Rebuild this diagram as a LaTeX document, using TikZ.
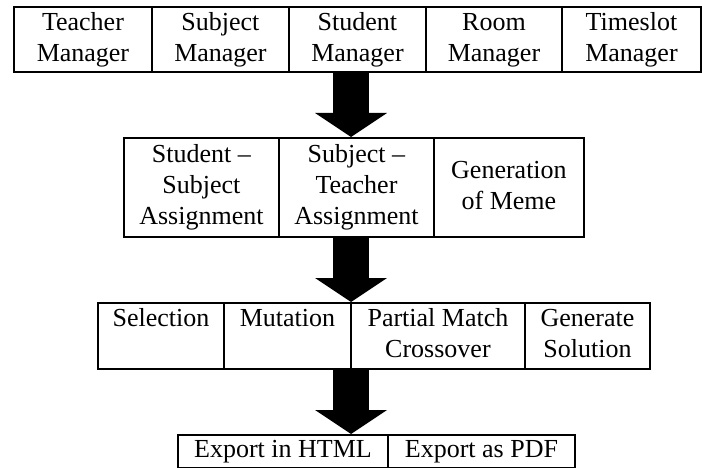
\documentclass[tikz,border=0pt]{standalone}
\usepackage{fontspec}
\setmainfont{Liberation Serif}
\usetikzlibrary{arrows.meta}
\begin{document}
\begin{tikzpicture}[x=1pt,y=-1pt,
  cell/.style={draw, line width=1.9pt, inner sep=0pt, align=center, anchor=north west,
    font=\fontsize{26}{31}\selectfont},
  fat/.style={line width=36pt, -{Triangle[width=72pt,length=24pt,line width=0pt]}}]
\useasboundingbox (0,0) rectangle (702,468);
% row 1
\node[cell, minimum width=138pt, minimum height=65pt] (t1) at (13,6) {\strut Teacher\\\strut Manager};
\node[cell, minimum width=137pt, minimum height=65pt] (t2) at (151,6) {\strut Subject\\\strut Manager};
\node[cell, minimum width=137pt, minimum height=65pt] (t3) at (288,6) {\strut Student\\\strut Manager};
\node[cell, minimum width=136pt, minimum height=65pt] (t4) at (425,6) {\strut Room\\\strut Manager};
\node[cell, minimum width=139pt, minimum height=65pt] (t5) at (561,6) {\strut Timeslot\\\strut Manager};
% row 2
\node[cell, minimum width=155pt, minimum height=99pt] (s1) at (123,137) {\strut Student --\\\strut Subject\\\strut Assignment};
\node[cell, minimum width=155pt, minimum height=99pt] (s2) at (278,137) {\strut Subject --\\\strut Teacher\\\strut Assignment};
\node[cell, minimum width=150pt, minimum height=99pt] (s3) at (433,137) {\strut Generation\\\strut of Meme};
% row 3
\node[cell, minimum width=126pt, minimum height=66pt] (g1) at (97,302) {\strut Selection\\\strut};
\node[cell, minimum width=127pt, minimum height=66pt] (g2) at (223,302) {\strut Mutation\\\strut};
\node[cell, minimum width=174pt, minimum height=66pt] (g3) at (350,302) {\strut Partial Match\\\strut Crossover};
\node[cell, minimum width=125pt, minimum height=66pt] (g4) at (524,302) {\strut Generate\\\strut Solution};
% row 4
\node[cell, minimum width=210pt, minimum height=33pt] (e1) at (177,434) {\strut Export in HTML};
\node[cell, minimum width=187pt, minimum height=33pt] (e2) at (387,434) {\strut Export as PDF};
% arrows
\coordinate (ax) at (351,0);
\draw[fat] (t3.south -| ax) -- (s2.north -| ax);
\draw[fat] (s2.south -| ax) -- (g2.north -| ax);
\draw[fat] (g3.south -| ax) -- (e1.north -| ax);
\end{tikzpicture}
\end{document}
